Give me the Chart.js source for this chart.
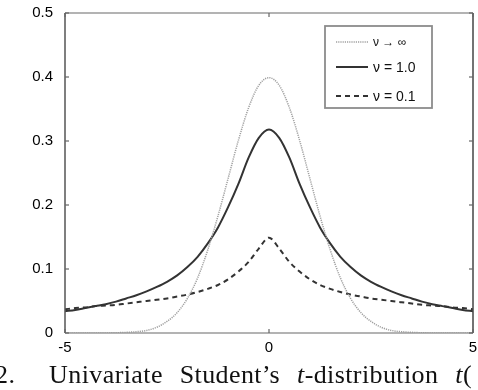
<!DOCTYPE html>
<html>
<head>
<meta charset="utf-8">
<script src="https://cdn.jsdelivr.net/npm/chart.js@4/dist/chart.umd.min.js"></script>
<style>
  html, body { margin: 0; padding: 0; background: #fff; overflow: hidden; }
  #wrap { position: relative; width: 478px; height: 390px; }
  #caption { position: absolute; left: -5px; top: 360px; font-family: "Liberation Serif", "DejaVu Serif", serif; font-size: 26px; color: #111; white-space: nowrap; word-spacing: 10px; letter-spacing: 0.4px; }
</style>
</head>
<body>
<div id="wrap">
  <canvas id="c" width="478" height="390"></canvas>
  <div id="caption">2.&nbsp; Univariate Student’s <i>t</i>-distribution <i>t</i>(</div>
</div>
<script>
const xValues = [-5,-4.75,-4.5,-4.25,-4,-3.75,-3.5,-3.25,-3,-2.75,-2.5,-2.25,-2,-1.75,-1.5,-1.25,-1,-0.75,-0.5,-0.25,0,0.25,0.5,0.75,1,1.25,1.5,1.75,2,2.25,2.5,2.75,3,3.25,3.5,3.75,4,4.25,4.5,4.75,5];
const nuInf = [0,0,0,0,0.0001,0.0004,0.001,0.002,0.004,0.009,0.018,0.032,0.054,0.086,0.130,0.183,0.242,0.301,0.352,0.387,0.399,0.387,0.352,0.301,0.242,0.183,0.130,0.086,0.054,0.032,0.018,0.009,0.004,0.002,0.001,0.0004,0.0001,0,0,0,0];
const nu10 = [0.034,0.036,0.039,0.042,0.045,0.049,0.054,0.059,0.065,0.072,0.080,0.090,0.103,0.119,0.140,0.165,0.197,0.233,0.274,0.305,0.318,0.305,0.274,0.233,0.197,0.165,0.140,0.119,0.103,0.090,0.080,0.072,0.065,0.059,0.054,0.049,0.045,0.042,0.039,0.036,0.034];
const nu01 = [0.037,0.039,0.040,0.042,0.043,0.044,0.046,0.048,0.050,0.052,0.054,0.057,0.060,0.064,0.069,0.075,0.084,0.096,0.111,0.132,0.149,0.132,0.111,0.096,0.084,0.075,0.069,0.064,0.060,0.057,0.054,0.052,0.050,0.048,0.046,0.044,0.043,0.042,0.040,0.039,0.037];
const seriesLabels = ["ν → ∞", "ν = 1.0", "ν = 0.1"];
const xTicks = [-5, 0, 5];
const yTicks = [0, 0.1, 0.2, 0.3, 0.4, 0.5];

const toPts = arr => arr.map((v, i) => ({x: xValues[i], y: v}));

const framePlugin = {
  id: 'frame',
  afterDraw(chart) {
    const {ctx, chartArea: {left, right, top, bottom}, scales: {x, y}} = chart;
    ctx.save();
    ctx.lineCap = 'butt';
    ctx.lineWidth = 1.5;
    ctx.strokeStyle = '#9a9a9a';
    ctx.beginPath(); ctx.moveTo(left, top); ctx.lineTo(right, top); ctx.stroke();
    ctx.beginPath(); ctx.moveTo(left, bottom); ctx.lineTo(right, bottom); ctx.stroke();
    ctx.strokeStyle = '#555';
    ctx.beginPath(); ctx.moveTo(left, top); ctx.lineTo(left, bottom); ctx.stroke();
    ctx.strokeStyle = '#444';
    ctx.beginPath(); ctx.moveTo(right, top); ctx.lineTo(right, bottom); ctx.stroke();
    ctx.lineWidth = 1.2;
    ctx.strokeStyle = '#666';
    yTicks.forEach(v => {
      const py = y.getPixelForValue(v);
      ctx.beginPath(); ctx.moveTo(left, py); ctx.lineTo(left + 4, py); ctx.stroke();
      ctx.beginPath(); ctx.moveTo(right - 4, py); ctx.lineTo(right, py); ctx.stroke();
    });
    xTicks.forEach(v => {
      const px = x.getPixelForValue(v);
      ctx.beginPath(); ctx.moveTo(px, bottom); ctx.lineTo(px, bottom - 4); ctx.stroke();
      ctx.beginPath(); ctx.moveTo(px, top); ctx.lineTo(px, top + 4); ctx.stroke();
    });
    const bx = 325, by = 26, bw = 107, bh = 82;
    ctx.fillStyle = '#fff';
    ctx.fillRect(bx, by, bw, bh);
    ctx.lineWidth = 1.8;
    ctx.strokeStyle = '#8c8c8c';
    ctx.strokeRect(bx, by, bw, bh);
    const rows = [42, 67, 96];
    chart.data.datasets.forEach((ds, i) => {
      const ry = rows[i];
      ctx.save();
      ctx.strokeStyle = ds.borderColor;
      ctx.lineWidth = ds.borderWidth;
      ctx.setLineDash(ds.borderDash || []);
      ctx.beginPath(); ctx.moveTo(336, ry); ctx.lineTo(368, ry); ctx.stroke();
      ctx.restore();
      ctx.fillStyle = '#111';
      ctx.font = (i === 0 ? '12px' : '14px') + ' "Liberation Sans", Arial, sans-serif';
      ctx.textBaseline = 'middle';
      ctx.textAlign = 'left';
      ctx.fillText(ds.label, 373, ry + 1);
    });
    ctx.restore();
  }
};

new Chart(document.getElementById('c'), {
  type: 'line',
  data: {
    datasets: [
      { label: seriesLabels[0], data: toPts(nuInf), borderColor: '#a0a0a0', borderWidth: 1.5, borderDash: [1.2, 1], pointRadius: 0, cubicInterpolationMode: 'monotone', fill: false },
      { label: seriesLabels[1], data: toPts(nu10), borderColor: '#333', borderWidth: 2, pointRadius: 0, cubicInterpolationMode: 'monotone', fill: false },
      { label: seriesLabels[2], data: toPts(nu01), borderColor: '#333', borderWidth: 2, borderDash: [5, 4], pointRadius: 0, cubicInterpolationMode: 'monotone', fill: false }
    ]
  },
  options: {
    responsive: false,
    animation: false,
    devicePixelRatio: 1,
    layout: { padding: { left: 0, right: 5, top: 10, bottom: 27 } },
    plugins: { legend: { display: false }, tooltip: { enabled: false } },
    scales: {
      x: {
        type: 'linear', min: -5, max: 5,
        grid: { display: false }, border: { display: false },
        afterBuildTicks: s => { s.ticks = xTicks.map(v => ({value: v})); },
        afterFit: s => { s.height = 30; },
        ticks: { padding: -2, color: '#000', font: { family: '"Liberation Sans", Arial, sans-serif', size: 15 }, maxRotation: 0, autoSkip: false }
      },
      y: {
        min: 0, max: 0.5,
        grid: { display: false }, border: { display: false },
        afterBuildTicks: s => { s.ticks = yTicks.map(v => ({value: v})); },
        afterFit: s => { s.width = 65; },
        ticks: { padding: 4, color: '#000', font: { family: '"Liberation Sans", Arial, sans-serif', size: 15 } }
      }
    }
  },
  plugins: [framePlugin]
});
</script>
</body>
</html>
